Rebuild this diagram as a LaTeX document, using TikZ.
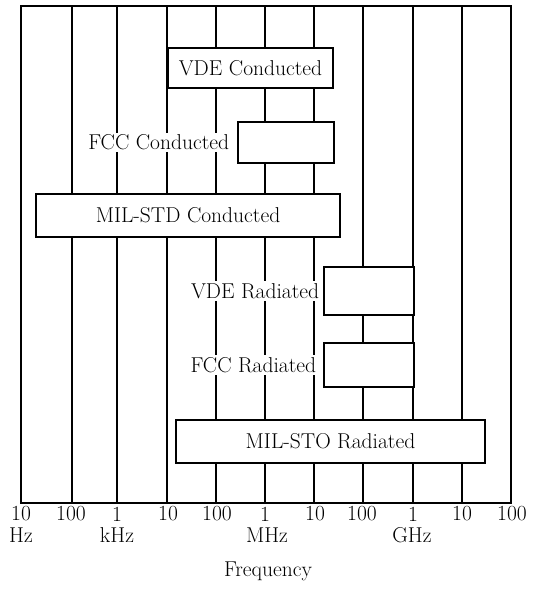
\documentclass[tikz,border=0pt]{standalone}
\usetikzlibrary{positioning}
\begin{document}
\begin{tikzpicture}[
  x=1pt,y=-1pt,
  every node/.style={font=\fontsize{21.5}{24}\selectfont},
  band/.style={draw,fill=white,line width=1.3pt,inner sep=0pt},
  tag/.style={fill=white,inner sep=2pt},
]
  \useasboundingbox (0,0) rectangle (553,607);

  % Decade grid and frame
  \foreach \gx in {72,117,216,265,314,363,413,462}
    \draw[line width=1.1pt] (\gx,6) -- (\gx,503);
  \draw[line width=1.6pt] (167,6) -- (167,503);
  \draw[line width=1.5pt] (21,6) rectangle (511,503);

  % Conducted bands
  \node[band,minimum width=165pt,minimum height=40pt] (vdecond) at (250.5,68) {VDE Conducted};
  \node[band,minimum width=96pt,minimum height=41pt] (fcccond) at (286,142.5) {};
  \node[tag,left=6pt of fcccond] (fcccondlbl) {FCC Conducted};
  \node[band,minimum width=304pt,minimum height=43pt] (milcond) at (188,215.5) {MIL-STD Conducted};

  % Radiated bands
  \node[band,minimum width=90pt,minimum height=48pt] (vderad) at (369,291) {};
  \node[tag,left=2pt of vderad] (vderadlbl) {VDE Radiated};
  \node[band,minimum width=90pt,minimum height=44pt] (fccrad) at (369,365) {};
  \node[tag,left=5pt of fccrad] (fccradlbl) {FCC Radiated};
  \node[band,minimum width=309pt,minimum height=43pt] (milrad) at (330.5,441.5) {MIL-STO Radiated};

  % Axis labels
  \foreach \v/\tx [count=\i from 0] in {10/21,100/71,1/117,10/168,100/217,1/265,10/315,100/362,1/413,10/462,100/512}
    \node (tick\i) at (\tx,514) {\v};
  \node (hz) at (21,535) {Hz};
  \node (khz) at (117,535) {kHz};
  \node (mhz) at (267,535) {MHz};
  \node (ghz) at (412,535) {GHz};
  \node (freq) at (268,571) {Frequency};
\end{tikzpicture}
\end{document}
